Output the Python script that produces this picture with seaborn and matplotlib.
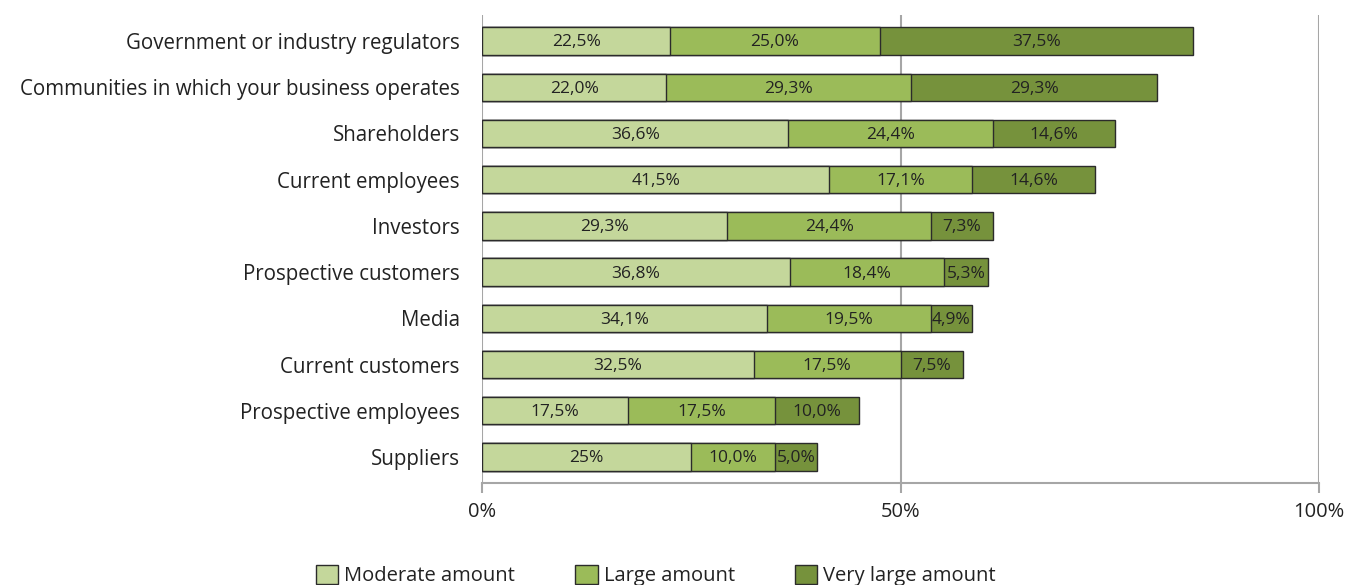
import matplotlib
matplotlib.use("Agg")
import matplotlib.pyplot as plt
import seaborn as sns
import pandas as pd
import numpy as np
from matplotlib.patches import Patch

categories = [
    "Government or industry regulators",
    "Communities in which your business operates",
    "Shareholders",
    "Current employees",
    "Investors",
    "Prospective customers",
    "Media",
    "Current customers",
    "Prospective employees",
    "Suppliers",
]
moderate = [22.5, 22.0, 36.6, 41.5, 29.3, 36.8, 34.1, 32.5, 17.5, 25.0]
large = [25.0, 29.3, 24.4, 17.1, 24.4, 18.4, 19.5, 17.5, 17.5, 10.0]
very_large = [37.5, 29.3, 14.6, 14.6, 7.3, 5.3, 4.9, 7.5, 10.0, 5.0]

moderate_labels = ["22,5%", "22,0%", "36,6%", "41,5%", "29,3%", "36,8%", "34,1%", "32,5%", "17,5%", "25%"]
large_labels = ["25,0%", "29,3%", "24,4%", "17,1%", "24,4%", "18,4%", "19,5%", "17,5%", "17,5%", "10,0%"]
very_large_labels = ["37,5%", "29,3%", "14,6%", "14,6%", "7,3%", "5,3%", "4,9%", "7,5%", "10,0%", "5,0%"]

series_names = ["Moderate amount", "Large amount", "Very large amount"]
colors = ["#c4d79b", "#9bbb59", "#76923c"]
x_ticks = [0, 50, 100]
x_tick_labels = ["0%", "50%", "100%"]

sns.set_theme(style="white")
plt.rcParams["font.family"] = ["Open Sans", "DejaVu Sans"]

df = pd.DataFrame({
    "category": categories,
    "moderate": moderate,
    "large": large,
    "very_large": very_large,
})
df["c1"] = df["moderate"]
df["c2"] = df["moderate"] + df["large"]
df["c3"] = df["c2"] + df["very_large"]

fig = plt.figure(figsize=(13.47, 5.85), dpi=100)
ax = fig.add_axes([482 / 1347, 1 - 483 / 585, (1319 - 482) / 1347, (483 - 15) / 585])

grid_col = "#a6a6a6"
text_col = "#222222"
# stacked bars: draw cumulative totals from longest to shortest
for col, color in zip(["c3", "c2", "c1"], colors[::-1]):
    sns.barplot(data=df, x=col, y="category", orient="h", color=color,
                saturation=1, edgecolor="#2b2b2b", linewidth=1.0, width=0.59,
                ax=ax, order=categories, zorder=3)

# segment labels
for i in range(len(categories)):
    starts = [0, df["c1"][i], df["c2"][i]]
    widths = [moderate[i], large[i], very_large[i]]
    labels = [moderate_labels[i], large_labels[i], very_large_labels[i]]
    for s, w, lab in zip(starts, widths, labels):
        ax.text(s + w / 2, i + 0.03, lab, ha="center", va="center", fontsize=12.5,
                color=text_col, zorder=5)

ax.set_xlim(0, 100)
ax.set_ylim(len(categories) - 1 + 0.56, -0.56)
ax.set_xticks(x_ticks)
ax.set_xticklabels(x_tick_labels)
ax.set_xlabel("")
ax.set_ylabel("")

for x in x_ticks:
    ax.axvline(x, color=grid_col, lw=1.5, zorder=1)

for side in ["top", "right"]:
    ax.spines[side].set_visible(False)
ax.spines["left"].set_visible(False)
ax.spines["bottom"].set_color(grid_col)
ax.spines["bottom"].set_linewidth(1.5)

ax.tick_params(axis="x", which="both", bottom=True, length=7, width=1.5,
               color=grid_col, pad=7, labelsize=14.5, labelcolor=text_col)
ax.tick_params(axis="y", length=0, pad=16, labelsize=14.8, labelcolor=text_col)

handles = [Patch(facecolor=c, edgecolor="#2b2b2b", linewidth=1.0) for c in colors]
fig.legend(handles, series_names, loc="lower center", bbox_to_anchor=(0.487, -0.033),
           ncol=3, frameon=False, fontsize=14.5, handlelength=1.1, handleheight=1.1,
           handletextpad=0.3, columnspacing=3.0, labelcolor=text_col)

fig.savefig("out.png", dpi=100)
